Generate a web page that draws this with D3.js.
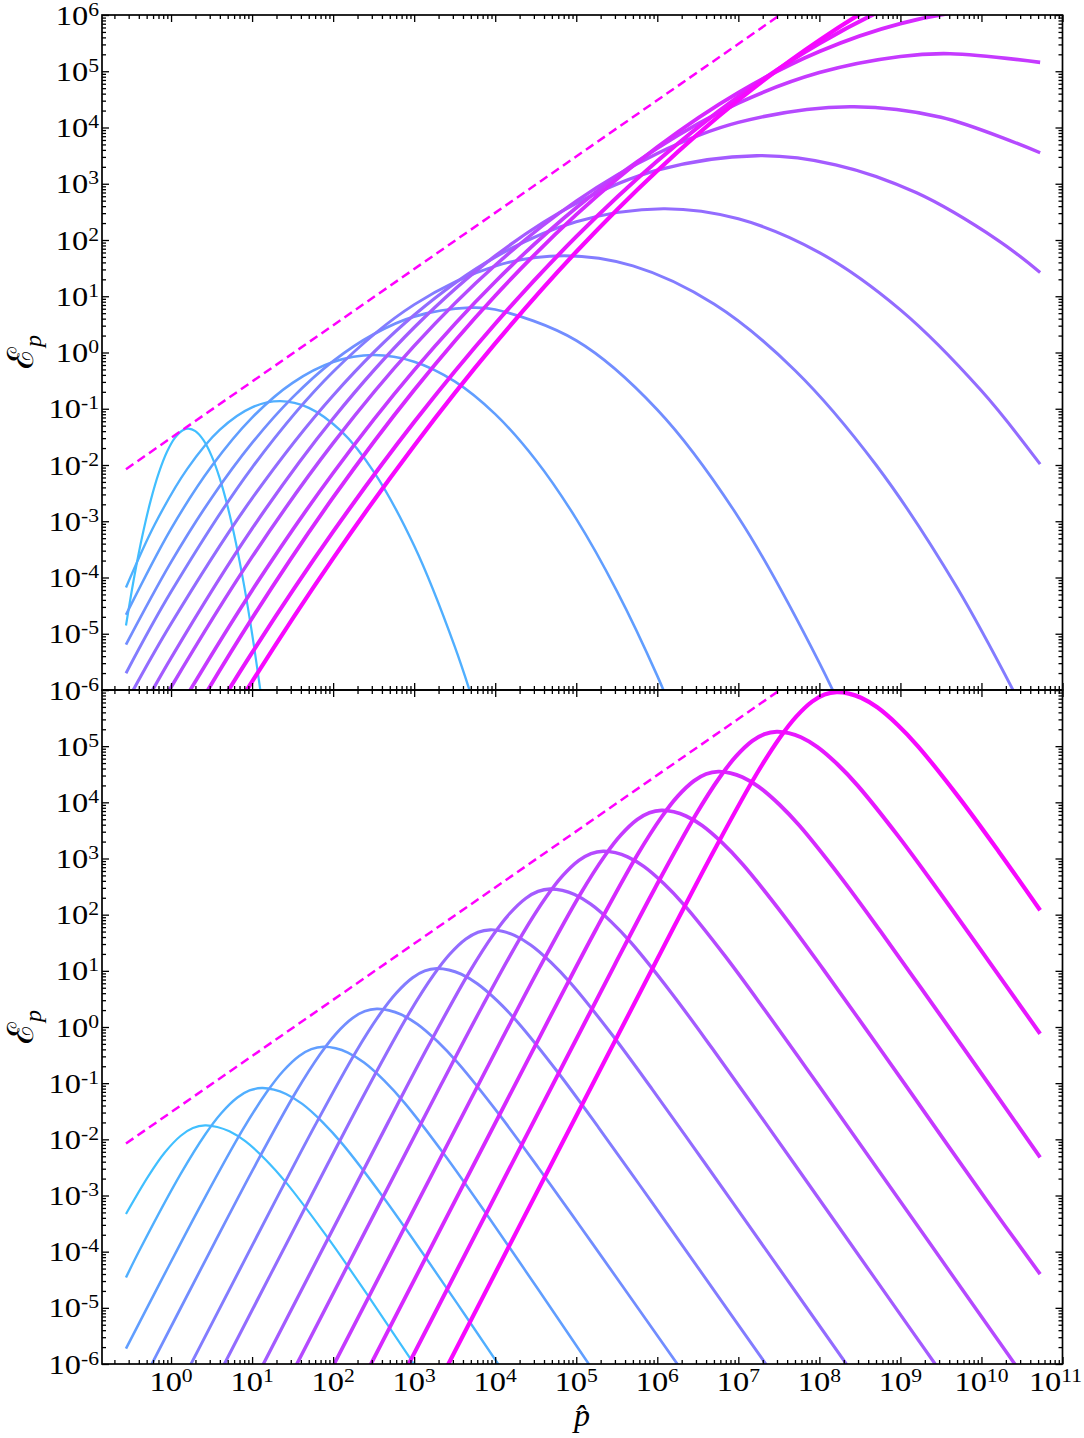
<!DOCTYPE html>
<html><head><meta charset="utf-8">
<script src="https://cdn.jsdelivr.net/npm/d3@7"></script>
<style>body{margin:0;background:#fff} svg{display:block}</style>
</head><body>
<svg id="c" width="1084" height="1438"></svg>
<script>
// ---- DATA (values are [log10 p, log10 E]) ----
const top1 = [[-0.556,-4.853],[-0.45,-3.956],[-0.35,-3.232],[-0.25,-2.625],[-0.15,-2.137],[-0.05,-1.766],[0.05,-1.514],[0.15,-1.379],[0.214,-1.355],[0.3,-1.399],[0.4,-1.559],[0.5,-1.838],[0.6,-2.234],[0.7,-2.749],[0.8,-3.381],[0.9,-4.132],[1.0,-5.0],[1.1,-5.987],[1.2,-7.091]];
const top2 = [[-0.556,-4.179],[-0.2,-3.054],[0.2,-2.068],[0.6,-1.375],[1.0,-0.975],[1.346,-0.865],[1.7,-0.983],[2.1,-1.399],[2.5,-2.117],[3.0,-3.437],[3.5,-5.226],[3.9,-6.997]];
const top3 = [[-0.556,-4.663],[0,-3.135],[0.5,-2.022],[1.0,-1.157],[1.5,-0.539],[2.0,-0.169],[2.498,-0.046],[3.0,-0.163],[3.5,-0.513],[4.0,-1.095],[4.5,-1.91],[5.0,-2.957],[5.5,-4.237],[6.0,-5.749],[6.5,-7.493]];
const top4 = [[-0.556,-5.192],[0,-3.727],[0.5,-2.585],[1,-1.608],[1.5,-0.798],[2,-0.153],[2.5,0.325],[3,0.638],[3.691,0.796],[4.0,0.764],[5.0,0.213],[6.0,-1.017],[7.0,-2.927],[8.0,-5.517],[8.5,-7.067]];
const top5 = [[-0.556,-5.703],[0,-4.255],[1,-2.045],[2,-0.343],[3,0.851],[4,1.537],[4.85,1.72],[5.7,1.539],[6.7,0.861],[7.7,-0.319],[8.7,-2.0],[9.7,-4.184],[10.7,-6.87]];
const top6 = [[-0.556,-6.235],[0,-4.823],[1,-2.593],[2,-0.763],[3,0.666],[4,1.696],[5,2.325],[6.074,2.556],[7,2.376],[8,1.777],[9,0.758],[10,-0.681],[10.724,-1.985]];
const top7 = [[-0.556,-6.858],[0,-5.431],[1,-3.131],[2,-1.172],[3,0.444],[4,1.718],[5,2.651],[6,3.241],[7.226,3.498],[8.2,3.337],[9.2,2.838],[10.2,1.999],[10.724,1.424]];
const top8 = [[-0.556,-7.366],[0,-5.951],[1,-3.634],[2,-1.612],[3,0.117],[4,1.551],[5,2.692],[6,3.538],[7,4.09],[8.379,4.37],[9.5,4.183],[10.724,3.551]];
const top9 = [[-0.556,-7.987],[0,-6.573],[1,-4.229],[2,-2.142],[3,-0.313],[4,1.259],[5,2.574],[6,3.632],[7,4.433],[8,4.976],[9,5.263],[9.613,5.311],[10.724,5.158]];
const top10 = [[-0.556,-8.536],[0,-7.108],[1,-4.725],[2,-2.577],[3,-0.666],[4,1.01],[5,2.45],[6,3.653],[7,4.621],[8,5.352],[9,5.848],[10,6.108],[10.724,6.148]];
const top11 = [[-0.556,-9.084],[0,-7.689],[1,-5.337],[2,-3.186],[3,-1.236],[4,0.512],[5,2.059],[6,3.405],[7,4.55],[8,5.494],[9,6.236],[10,6.778],[10.724,7.044]];
const top12 = [[-0.556,-9.634],[0,-8.23],[1,-5.851],[2,-3.66],[3,-1.656],[4,0.161],[5,1.79],[6,3.232],[7,4.486],[8,5.553],[9,6.433],[10,7.125],[10.724,7.509]];

const bot1 = [[-0.556,-3.33],[-0.28,-2.656],[-0.08,-2.240],[0.12,-1.936],[0.27,-1.799],[0.42,-1.752],[0.57,-1.780],[0.72,-1.858],[0.92,-2.038],[1.17,-2.367],[1.42,-2.770],[1.92,-3.724],[2.42,-4.762],[2.92,-5.833],[3.42,-6.914]];
const bot2 = [[-0.556,-4.46],[-0.381,-3.953],[0.119,-2.616],[0.419,-1.918],[0.619,-1.536],[0.819,-1.256],[0.969,-1.130],[1.119,-1.087],[1.269,-1.114],[1.419,-1.192],[1.619,-1.369],[1.869,-1.693],[2.119,-2.090],[2.619,-3.031],[3.119,-4.055],[3.619,-5.110],[4.119,-6.176],[4.619,-7.247]];
const bot3 = [[-0.556,-5.726],[-0.119,-4.507],[0.381,-3.135],[0.881,-1.836],[1.181,-1.159],[1.381,-0.788],[1.581,-0.516],[1.731,-0.394],[1.881,-0.352],[2.031,-0.379],[2.181,-0.456],[2.381,-0.633],[2.631,-0.955],[2.881,-1.350],[3.381,-2.286],[3.881,-3.306],[4.381,-4.356],[4.881,-5.417],[5.881,-7.549]];
const bot4 = [[-0.461,-6.624],[0.539,-3.834],[1.039,-2.462],[1.539,-1.163],[1.839,-0.486],[2.039,-0.115],[2.239,0.157],[2.389,0.279],[2.539,0.321],[2.689,0.295],[2.839,0.221],[3.039,0.051],[3.289,-0.259],[3.539,-0.639],[4.039,-1.539],[4.539,-2.519],[5.039,-3.529],[5.539,-4.549],[6.539,-6.599]];
const bot5 = [[-0.22,-7.304],[1.28,-3.114],[1.78,-1.742],[2.28,-0.443],[2.58,0.234],[2.78,0.605],[2.98,0.877],[3.13,0.999],[3.28,1.041],[3.43,1.015],[3.58,0.941],[3.78,0.771],[4.03,0.461],[4.28,0.081],[4.78,-0.819],[5.28,-1.799],[5.78,-2.809],[6.28,-3.829],[7.28,-5.879],[8.28,-7.929]];
const bot6 = [[0.438,-6.615],[1.938,-2.425],[2.438,-1.053],[2.938,0.246],[3.238,0.923],[3.438,1.294],[3.638,1.566],[3.788,1.688],[3.938,1.73],[4.088,1.704],[4.238,1.63],[4.438,1.46],[4.688,1.15],[4.938,0.77],[5.438,-0.13],[5.938,-1.11],[6.438,-2.12],[6.938,-3.14],[7.938,-5.19],[8.938,-7.24]];
const bot7 = [[0.929,-6.588],[2.679,-1.698],[3.179,-0.326],[3.679,0.973],[3.979,1.65],[4.179,2.021],[4.379,2.293],[4.529,2.415],[4.679,2.457],[4.829,2.431],[4.979,2.357],[5.179,2.187],[5.429,1.877],[5.679,1.497],[6.179,0.597],[6.679,-0.383],[7.179,-1.393],[7.679,-2.413],[8.679,-4.463],[9.679,-6.513]];
const bot8 = [[1.333,-6.614],[3.333,-1.025],[3.833,0.347],[4.333,1.646],[4.633,2.323],[4.833,2.694],[5.033,2.966],[5.183,3.088],[5.333,3.13],[5.483,3.104],[5.633,3.03],[5.833,2.86],[6.083,2.55],[6.333,2.17],[6.833,1.27],[7.333,0.29],[7.833,-0.72],[8.333,-1.74],[9.333,-3.79],[10.333,-5.84],[10.724,-6.642]];
const bot9 = [[1.803,-6.587],[4.053,-0.298],[4.553,1.074],[5.053,2.373],[5.353,3.05],[5.553,3.421],[5.753,3.693],[5.903,3.815],[6.053,3.857],[6.203,3.831],[6.353,3.757],[6.553,3.587],[6.803,3.277],[7.053,2.897],[7.553,1.997],[8.053,1.017],[8.553,0.007],[9.053,-1.013],[10.053,-3.063],[10.724,-4.40]];
const bot10 = [[2.253,-6.598],[4.753,0.391],[5.253,1.763],[5.753,3.062],[6.053,3.739],[6.253,4.11],[6.453,4.382],[6.603,4.504],[6.753,4.546],[6.903,4.52],[7.053,4.446],[7.253,4.276],[7.503,3.966],[7.753,3.586],[8.253,2.686],[8.753,1.706],[9.253,0.696],[9.753,-0.324],[10.724,-2.32]];
const bot11 = [[2.723,-6.586],[5.473,1.103],[5.973,2.475],[6.473,3.774],[6.773,4.451],[6.973,4.822],[7.173,5.094],[7.323,5.216],[7.473,5.258],[7.623,5.232],[7.773,5.158],[7.973,4.988],[8.223,4.678],[8.473,4.298],[8.973,3.398],[9.473,2.418],[9.973,1.408],[10.724,-0.12]];
const bot12 = [[3.214,-6.583],[6.214,1.807],[6.714,3.179],[7.214,4.478],[7.514,5.155],[7.714,5.526],[7.914,5.798],[8.064,5.92],[8.214,5.962],[8.364,5.936],[8.514,5.862],[8.714,5.692],[8.964,5.382],[9.214,5.002],[9.714,4.102],[10.214,3.122],[10.724,2.08]];

const dashTop = [[-0.556,-2.074],[7.514,6.0]];
const dashBot = [[-0.556,-2.074],[7.514,6.0]];

const xTickExps = [0,1,2,3,4,5,6,7,8,9,10,11];
const yTickExpsTop = [-6,-5,-4,-3,-2,-1,0,1,2,3,4,5,6];
const yTickExpsBot = [-6,-5,-4,-3,-2,-1,0,1,2,3,4,5];

// ---- LAYOUT ----
const svg = d3.select("#c");
const L = 102, R = 1062.5, T1 = 15, M = 690, B2 = 1364;
const x = d3.scaleLog().domain([0.1406, 1e11]).range([L, R]);
const yT = d3.scaleLog().domain([1e-6, 1e6]).range([M, T1]);
const yB = d3.scaleLog().domain([1e-6, 1e6]).range([B2, M]);

const defs = svg.append("defs");
defs.append("clipPath").attr("id","clipT").append("rect").attr("x",L).attr("y",T1).attr("width",R-L).attr("height",M-T1);
defs.append("clipPath").attr("id","clipB").append("rect").attr("x",L).attr("y",M).attr("width",R-L).attr("height",B2-M);

const cool = t => d3.rgb(255*t, 255*(1-t), 255).toString();
const n = 12;
const colorOf = i => cool(0.25 + i*(0.72/(n-1)));
const widthOf = i => 2.2 + i*(2.0/(n-1));

function drawPanel(series, dash, y, clip) {
  const g = svg.append("g").attr("clip-path", `url(#${clip})`);
  const line = d3.line().x(d => x(Math.pow(10, d[0]))).y(d => y(Math.pow(10, d[1])))
    .curve(d3.curveCatmullRom.alpha(0.5));
  series.forEach((s, i) => {
    g.append("path").attr("d", line(s)).attr("fill","none")
      .attr("stroke", colorOf(i)).attr("stroke-width", widthOf(i))
      .attr("stroke-linecap","butt").attr("stroke-linejoin","round");
  });
  const dl = d3.line().x(d => x(Math.pow(10, d[0]))).y(d => y(Math.pow(10, d[1])));
  g.append("path").attr("d", dl(dash)).attr("fill","none").attr("stroke","#ff00ff")
    .attr("stroke-width", 2.5).attr("stroke-dasharray","9,5");
}
drawPanel([top1,top2,top3,top4,top5,top6,top7,top8,top9,top10,top11,top12], dashTop, yT, "clipT");
drawPanel([bot1,bot2,bot3,bot4,bot5,bot6,bot7,bot8,bot9,bot10,bot11,bot12], dashBot, yB, "clipB");

// ---- AXES ----
const xMajor = xTickExps.map(e => Math.pow(10, e));
const xMinor = [];
for (let e = -1; e <= 10; e++) for (let k = 2; k <= 9; k++) { const v = k*Math.pow(10,e); if (v > 0.1406 && v < 1e11) xMinor.push(v); }
const yMajor = d3.range(-6, 7).map(e => Math.pow(10, e));
const yMinor = [];
for (let e = -6; e < 6; e++) for (let k = 2; k <= 9; k++) yMinor.push(k*Math.pow(10,e));

const MAJ = 7, MIN = 4;
function axisG(axis, tx, ty) {
  const g = svg.append("g").attr("transform", `translate(${tx},${ty})`).call(axis);
  g.select(".domain").remove();
  g.selectAll("line").attr("stroke","#000").attr("stroke-width",1.3);
  g.selectAll("text").remove();
  return g;
}
[[d3.axisBottom, B2],[d3.axisBottom, M],[d3.axisTop, M],[d3.axisTop, T1]].forEach(([f, yy]) => {
  axisG(f(x).tickValues(xMajor).tickSize(-MAJ).tickFormat(""), 0, yy);
  axisG(f(x).tickValues(xMinor).tickSize(-MIN).tickFormat(""), 0, yy);
});
[yT, yB].forEach(ys => {
  axisG(d3.axisLeft(ys).tickValues(yMajor).tickSize(-MAJ).tickFormat(""), L, 0);
  axisG(d3.axisLeft(ys).tickValues(yMinor).tickSize(-MIN).tickFormat(""), L, 0);
  axisG(d3.axisRight(ys).tickValues(yMajor).tickSize(-MAJ).tickFormat(""), R, 0);
  axisG(d3.axisRight(ys).tickValues(yMinor).tickSize(-MIN).tickFormat(""), R, 0);
});
svg.append("rect").attr("x",L).attr("y",T1).attr("width",R-L).attr("height",M-T1).attr("fill","none").attr("stroke","#000").attr("stroke-width",1.7);
svg.append("rect").attr("x",L).attr("y",M).attr("width",R-L).attr("height",B2-M).attr("fill","none").attr("stroke","#000").attr("stroke-width",1.7);

// ---- TICK LABELS ----
const FONT = "'Liberation Serif','Times New Roman',serif";
function powLabel(gx, gy, e, anchor) {
  const g = svg.append("g").attr("transform", `translate(${gx},${gy}) scale(1.2,1)`);
  const t = g.append("text").attr("x", 0).attr("y", 0).attr("text-anchor", anchor)
    .attr("font-family", FONT).attr("font-size", 27).attr("fill","#000");
  t.append("tspan").text("10");
  t.append("tspan").attr("dy", -9).attr("font-size", 18).text(String(e));
}
yTickExpsTop.forEach(e => powLabel(99, yT(Math.pow(10,e)) + 9.5, e, "end"));
yTickExpsBot.forEach(e => powLabel(99, yB(Math.pow(10,e)) + 9.5, e, "end"));
xTickExps.forEach(e => powLabel(x(Math.pow(10,e)) - (e === 11 ? 7 : 0), 1391, e, "middle"));

// ---- AXIS TITLES ----
function yTitle(cy) {
  const t = svg.append("text").attr("transform", `translate(33,${cy}) rotate(-90)`)
    .attr("text-anchor","middle").attr("font-family","'DejaVu Serif',serif").attr("font-size", 36).attr("fill","#000");
  t.append("tspan").text("ℰ");
  t.append("tspan").attr("dy", 8).attr("font-size", 24).attr("font-style","italic")
    .attr("font-family", FONT).text("p");
}
yTitle(352);
yTitle(1027);
svg.append("text").attr("x", 582).attr("y", 1426).attr("text-anchor","middle")
  .attr("font-family", FONT).attr("font-style","italic").attr("font-size", 32).text("p\u0302");
</script>
</body></html>
